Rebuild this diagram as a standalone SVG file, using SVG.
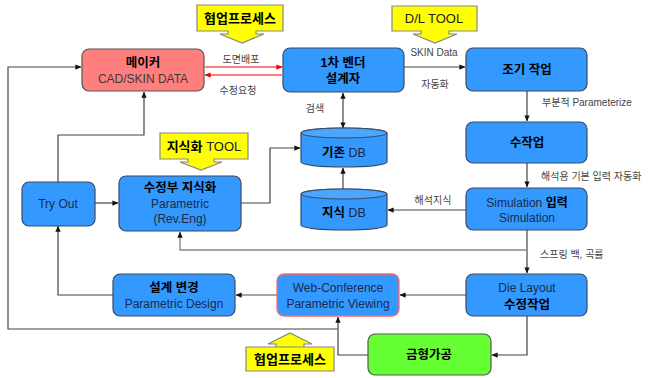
<svg xmlns="http://www.w3.org/2000/svg" width="658" height="378" viewBox="0 0 658 378">
<defs>
<marker id="ah" viewBox="0 0 8 8" refX="7.5" refY="4" markerWidth="6" markerHeight="6" orient="auto-start-reverse" markerUnits="userSpaceOnUse">
<path d="M0,0.5 L8,4 L0,7.5 Z" fill="#111"/>
</marker>
<marker id="ahr" viewBox="0 0 8 8" refX="7.5" refY="4" markerWidth="6" markerHeight="6" orient="auto-start-reverse" markerUnits="userSpaceOnUse">
<path d="M0,0.5 L8,4 L0,7.5 Z" fill="#e00"/>
</marker>
</defs>
<style>
.b{fill:#3399ff;stroke:#3a4a66;stroke-width:1.2}
.pk{fill:#ff7f7f;stroke:#555;stroke-width:1.2}
.gr{fill:#66ff33;stroke:#555;stroke-width:1.2}
.wc{fill:#3399ff;stroke:#ff6a6a;stroke-width:1.3}
.y{fill:#ffff00;stroke:#888;stroke-width:1.2}
.c{fill:none;stroke:#444;stroke-width:1.2}
.cl{fill:none;stroke:#888;stroke-width:1.4}
.r{fill:none;stroke:#e00;stroke-width:1.1}
text{font-family:"Liberation Sans","Noto Sans CJK KR",sans-serif;text-anchor:middle}
.t{font-size:12.5px;font-weight:bold;fill:#000}
.e{font-size:12px;fill:#1b2b4b}
.ep{font-size:12px;fill:#3a3a3a}
.l{font-size:10px;fill:#444;text-anchor:start}
.lm{font-size:10px;fill:#444}
.yt{font-size:13px;font-weight:bold;fill:#000}
.yr{font-size:13px;fill:#222}
</style>

<g id="connectors">
<!-- maker <-> vendor -->
<line class="r" x1="205" y1="67" x2="282" y2="67" marker-end="url(#ahr)"/>
<line class="r" x1="282" y1="75" x2="205" y2="75" marker-end="url(#ahr)"/>
<!-- vendor -> early work -->
<line class="c" x1="404" y1="67" x2="465" y2="67" marker-end="url(#ah)"/>
<!-- vendor <-> DB -->
<line class="c" x1="343" y1="93" x2="343" y2="128" marker-start="url(#ah)" marker-end="url(#ah)"/>
<!-- early -> manual -->
<line class="c" x1="527" y1="91" x2="527" y2="121" marker-end="url(#ah)"/>
<!-- manual -> simulation -->
<line class="c" x1="527" y1="163" x2="527" y2="187" marker-end="url(#ah)"/>
<!-- simulation -> knowledge DB -->
<line class="c" x1="466" y1="210" x2="388" y2="210" marker-end="url(#ah)"/>
<!-- knowledge DB -> existing DB -->
<line class="c" x1="343" y1="189" x2="343" y2="168" marker-end="url(#ah)"/>
<!-- knowledge-ization -> existing DB -->
<polyline class="c" points="241,203 270,203 270,148 300,148" marker-end="url(#ah)"/>
<!-- simulation -> die layout -->
<line class="c" x1="527" y1="230" x2="527" y2="273" marker-end="url(#ah)"/>
<!-- branch back to knowledge-ization -->
<polyline class="cl" points="527,250 180,250 180,232" marker-end="url(#ah)"/>
<!-- die layout -> web conf -->
<line class="cl" x1="466" y1="295" x2="400" y2="295" marker-end="url(#ah)"/>
<!-- web conf -> design change -->
<line class="cl" x1="277" y1="295" x2="236" y2="295" marker-end="url(#ah)"/>
<!-- design change -> try out -->
<polyline class="c" points="113,295 58,295 58,226" marker-end="url(#ah)"/>
<!-- try out -> knowledge-ization -->
<line class="c" x1="95" y1="203" x2="118" y2="203" marker-end="url(#ah)"/>
<!-- try out -> maker -->
<polyline class="c" points="58,182 58,135 144,135 144,92" marker-end="url(#ah)"/>
<!-- die layout -> mold -->
<polyline class="c" points="527,316 527,355 492,355" marker-end="url(#ah)"/>
<!-- mold -> web conf -->
<polyline class="c" points="368,355 338,355 338,317" marker-end="url(#ah)"/>
<!-- outer loop -> maker -->
<polyline class="c" points="338,329 8,329 8,67 81,67" marker-end="url(#ah)"/>
</g>

<g id="labels">
<text class="lm" x="241" y="63">도면배포</text>
<text class="lm" x="238" y="94">수정요청</text>
<text class="lm" x="434" y="56">SKIN Data</text>
<text class="lm" x="435" y="88">자동화</text>
<text class="lm" x="315" y="112">검색</text>
<text class="l" x="542" y="106">부분적 Parameterize</text>
<text class="l" x="541" y="180">해석용 기본 입력 자동화</text>
<text class="lm" x="433" y="204">해석지식</text>
<text class="l" x="540" y="258">스프링 백, 곡률</text>
</g>

<g id="callout-collab-top">
<path class="y" d="M197,5 H283 V31 H256 V34 H264 L242,43 L220,34 H228 V31 H197 Z"/>
<text class="yt" x="240" y="23">협업프로세스</text>
</g>
<g id="callout-dl">
<path class="y" d="M392,6 H477 V31 H449 V34 H457 L435,43 L413,34 H421 V31 H392 Z"/>
<text class="yr" x="434" y="23">D/L TOOL</text>
</g>
<g id="callout-knowledge">
<path class="y" d="M160,133 H248 V159 H214 V162 H222 L201,170 L180,162 H188 V159 H160 Z"/>
<text x="204" y="151" style="font-size:13px"><tspan font-weight="bold" fill="#000">지식화</tspan><tspan fill="#222"> TOOL</tspan></text>
</g>
<g id="callout-collab-bottom">
<path class="y" d="M246,347 H334 V371 H246 Z M276,347 V344 H268 L290,333 L312,344 H304 V347 Z"/>
<text class="yt" x="290" y="364">협업프로세스</text>
</g>

<g id="maker">
<rect class="pk" x="82" y="49" width="122" height="42" rx="7"/>
<text class="t" x="143" y="67">메이커</text>
<text class="ep" x="143" y="83">CAD/SKIN DATA</text>
</g>
<g id="vendor">
<rect class="b" x="283" y="48" width="121" height="44" rx="7"/>
<text class="t" x="343" y="67">1차 벤더</text>
<text class="t" x="343" y="83">설계자</text>
</g>
<g id="early">
<rect class="b" x="466" y="48" width="121" height="43" rx="7"/>
<text class="t" x="527" y="74">조기 작업</text>
</g>
<g id="manual">
<rect class="b" x="466" y="122" width="121" height="41" rx="7"/>
<text class="t" x="527" y="147">수작업</text>
</g>
<g id="simulation">
<rect class="b" x="466" y="188" width="121" height="42" rx="7"/>
<text class="e" x="527" y="207">Simulation <tspan font-weight="bold" fill="#000">입력</tspan></text>
<text class="e" x="527" y="222">Simulation</text>
</g>
<g id="dielayout">
<rect class="b" x="466" y="274" width="121" height="42" rx="7"/>
<text class="e" x="527" y="292">Die Layout</text>
<text class="t" x="527" y="309">수정작업</text>
</g>
<g id="mold">
<rect class="gr" x="368" y="334" width="123" height="41" rx="7"/>
<text class="t" x="429" y="359">금형가공</text>
</g>
<g id="webconf">
<rect class="wc" x="277" y="274" width="122" height="42" rx="7"/>
<text class="e" x="338" y="292">Web-Conference</text>
<text class="e" x="338" y="308">Parametric Viewing</text>
</g>
<g id="design-change">
<rect class="b" x="113" y="274" width="122" height="42" rx="7"/>
<text class="t" x="174" y="292">설계 변경</text>
<text class="e" x="174" y="308">Parametric Design</text>
</g>
<g id="tryout">
<rect class="b" x="22" y="182" width="73" height="44" rx="7"/>
<text class="e" x="58" y="208">Try Out</text>
</g>
<g id="knowledge">
<rect class="b" x="119" y="176" width="122" height="55" rx="7"/>
<text class="t" x="180" y="192">수정부 지식화</text>
<text class="e" x="180" y="208">Parametric</text>
<text class="e" x="180" y="223">(Rev.Eng)</text>
</g>
<g id="existing-db">
<path class="b" d="M301,133 A43,5 0 0 1 387,133 V162 A43,5 0 0 1 301,162 Z"/>
<ellipse cx="344" cy="133" rx="43" ry="5" fill="#4aa6ff" stroke="#3a4a66" stroke-width="1"/>
<text class="t" x="344" y="157">기존 <tspan font-weight="normal" fill="#1b2b4b">DB</tspan></text>
</g>
<g id="knowledge-db">
<path class="b" d="M301,194 A43,5 0 0 1 387,194 V225 A43,5 0 0 1 301,225 Z"/>
<ellipse cx="344" cy="194" rx="43" ry="5" fill="#4aa6ff" stroke="#3a4a66" stroke-width="1"/>
<text class="t" x="344" y="217">지식 <tspan font-weight="normal" fill="#1b2b4b">DB</tspan></text>
</g>
</svg>
